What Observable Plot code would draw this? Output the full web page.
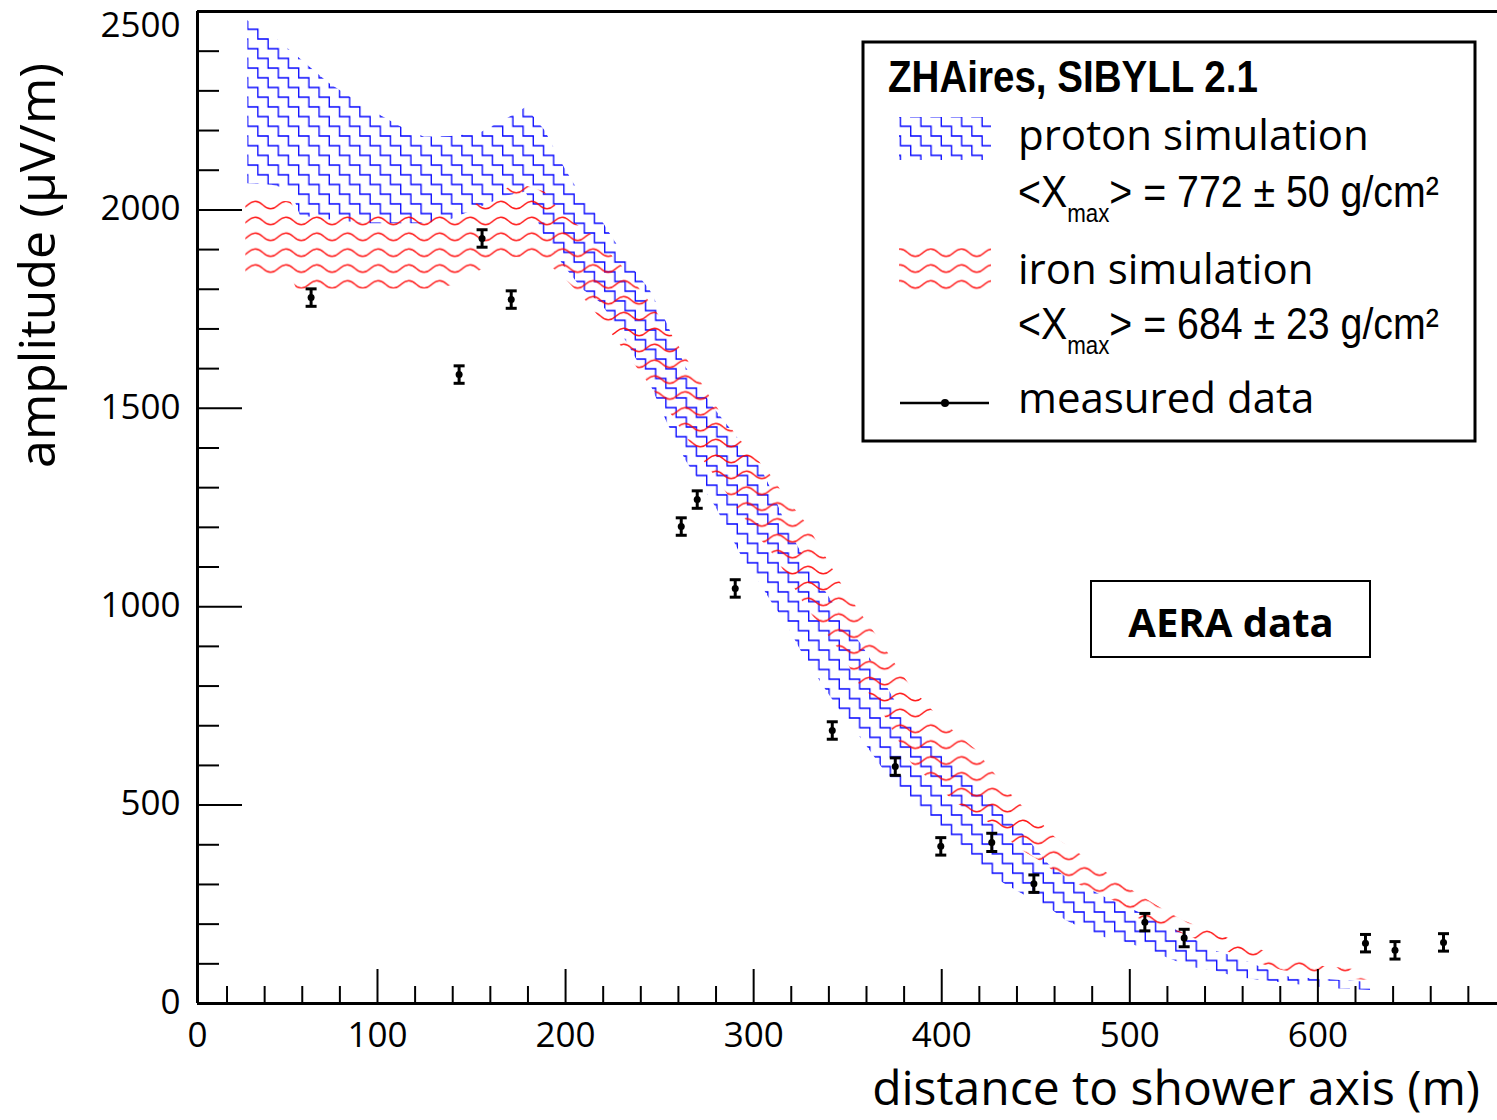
<!DOCTYPE html>
<html>
<head>
<meta charset="utf-8">
<script src="https://cdn.jsdelivr.net/npm/d3@7"></script>
<script src="https://cdn.jsdelivr.net/npm/@observablehq/plot@0.6"></script>
<style>
  html, body { margin: 0; padding: 0; background: #fff; }
  svg { display: block; }
</style>
</head>
<body>
<div id="chart"></div>
<script>
// ---------------- data ----------------
// proton simulation band (ZHAires, SIBYLL 2.1)
const protonX    = [31, 44, 54, 59, 74, 94, 114, 125, 139, 154, 169, 179, 189, 199, 209, 219, 233, 245, 254, 264, 280, 294, 302, 310, 317, 326, 337, 347, 358, 369, 379, 389, 399, 409, 420, 434, 445, 457, 466, 477, 487, 500, 514, 533, 544, 557, 570, 585, 606, 628];
const protonLow  = [2066, 2062, 2050, 1985, 1975, 1965, 1965, 1965, 1975, 2005, 2035, 2045, 1930, 1860, 1800, 1765, 1663, 1562, 1464, 1368, 1250, 1124, 1070, 1008, 960, 882, 800, 731, 663, 590, 537, 486, 436, 405, 343, 300, 270, 242, 209, 184, 166, 151, 126, 91, 83, 66, 58, 50, 38, 33];
const protonHigh = [2477, 2440, 2400, 2380, 2320, 2258, 2205, 2183, 2185, 2192, 2230, 2258, 2200, 2110, 2030, 1975, 1870, 1797, 1714, 1603, 1494, 1410, 1368, 1290, 1210, 1130, 1048, 973, 900, 814, 731, 680, 630, 587, 540, 469, 419, 350, 318, 292, 267, 240, 210, 166, 134, 116, 91, 66, 60, 53];

// iron simulation band
const ironX    = [30, 54, 57, 132, 144, 159, 174, 189, 199, 213, 229, 243, 254, 266, 277, 291, 303, 310, 317, 328, 339, 347, 356, 365, 374, 384, 400, 408, 418, 431, 440, 452, 461, 479, 491, 503, 516, 528, 546, 564, 581, 599, 615, 628];
const ironLow  = [1835, 1835, 1800, 1800, 1815, 1860, 1880, 1870, 1830, 1760, 1660, 1570, 1500, 1415, 1345, 1250, 1174, 1134, 1084, 998, 932, 882, 806, 764, 688, 605, 537, 504, 479, 436, 393, 360, 328, 285, 260, 217, 195, 176, 141, 108, 83, 70, 62, 58];
const ironHigh = [2030, 2020, 1995, 1995, 2000, 2025, 2068, 2045, 1985, 1940, 1864, 1779, 1704, 1613, 1527, 1430, 1365, 1326, 1275, 1210, 1120, 1055, 990, 930, 865, 796, 713, 680, 640, 562, 510, 460, 415, 360, 318, 280, 242, 210, 175, 145, 116, 95, 88, 80];

// measured AERA data
const dataX   = [64.7, 143.4, 155.6, 171.1, 261.5, 270.0, 290.2, 341.8, 375.3, 399.5, 426.6, 449.0, 508.0, 528.9, 625.3, 641.0, 666.8];
const dataY   = [1779, 1585, 1928, 1774, 1202, 1270, 1046, 688, 597, 396, 406, 302, 205, 165, 152, 134, 154];
const dataErr = [22, 22, 22, 22, 22, 22, 22, 22, 22, 22, 23, 22, 22, 22, 22, 22, 22];

// axes
const xDomain = [4.3, 695.5];
const yDomain = [0, 2500];
const xMajorTicks = [0, 100, 200, 300, 400, 500, 600];
const xTickLabels = ["0", "100", "200", "300", "400", "500", "600"];
const xMinorTicks = [20, 40, 60, 80, 120, 140, 160, 180, 220, 240, 260, 280, 320, 340, 360, 380, 420, 440, 460, 480, 520, 540, 560, 580, 620, 640, 660, 680];
const yMajorTicks = [0, 500, 1000, 1500, 2000, 2500];
const yTickLabels = ["0", "500", "1000", "1500", "2000", "2500"];
const yMinorTicks = [100, 200, 300, 400, 600, 700, 800, 900, 1100, 1200, 1300, 1400, 1600, 1700, 1800, 1900, 2100, 2200, 2300, 2400];

const xTitle = "distance to shower axis (m)";
const yTitle = "amplitude (µV/m)";
const legendTitle = "ZHAires, SIBYLL 2.1";
const protonLabel = "proton simulation";
const protonXmax = "772 ± 50 g/cm²";
const ironLabel = "iron simulation";
const ironXmax = "684 ± 23 g/cm²";
const dataLabel = "measured data";
const boxLabel = "AERA data";

// ---------------- layout ----------------
const W = 1497, H = 1120;
const mL = 197, mR = 0, mT = 11, mB = 117;
const fw = W - mL - mR, fh = H - mT - mB;

const protonRows = protonX.map((x, i) => ({x, lo: protonLow[i], hi: protonHigh[i]}));
const ironRows = ironX.map((x, i) => ({x, lo: ironLow[i], hi: ironHigh[i]}));
const points = dataX.map((x, i) => ({x, y: dataY[i], e: dataErr[i]}));
const yLabelRows = yMajorTicks.map((y, i) => ({y, label: yTickLabels[i]}));

const capSymbol = {
  draw(ctx, size) {
    const r = Math.sqrt(size / Math.PI);
    ctx.moveTo(-r, 0);
    ctx.lineTo(r, 0);
  }
};

const plot = Plot.plot({
  width: W, height: H,
  marginLeft: mL, marginRight: mR, marginTop: mT, marginBottom: mB,
  x: {domain: xDomain, axis: null},
  y: {domain: yDomain, axis: null},
  style: {fontFamily: "'Open Sans', sans-serif", background: "white", color: "black"},
  marks: [
    Plot.areaY(protonRows, {x: "x", y1: "lo", y2: "hi", fill: "#00f", curve: "linear"}),
    Plot.areaY(ironRows, {x: "x", y1: "lo", y2: "hi", fill: "#f00", curve: "linear"}),
    // ticks (pointing inward)
    Plot.ruleX(xMinorTicks, {x: d => d, insetTop: fh - 17, strokeWidth: 2, stroke: "black"}),
    Plot.ruleX(xMajorTicks.filter(d => d > xDomain[0]), {x: d => d, insetTop: fh - 34, strokeWidth: 2, stroke: "black"}),
    Plot.ruleY(yMinorTicks, {y: d => d, insetRight: fw - 22, strokeWidth: 2, stroke: "black"}),
    Plot.ruleY(yMajorTicks, {y: d => d, insetRight: fw - 45, strokeWidth: 2, stroke: "black"}),
    // axis lines / frame
    Plot.ruleX([xDomain[0]], {x: d => d, strokeWidth: 3, stroke: "black"}),
    Plot.ruleY([yDomain[0]], {y: d => d, strokeWidth: 3, stroke: "black"}),
    Plot.ruleY([yDomain[1]], {y: d => d, strokeWidth: 3, stroke: "black"}),
    // tick labels
    Plot.text(xMajorTicks, {x: d => Math.max(d, xDomain[0]), text: (d, i) => xTickLabels[i], frameAnchor: "bottom", lineAnchor: "top", dy: 19, fontSize: 35, fill: "black"}),
    Plot.text(yLabelRows.filter(d => d.y < yDomain[1]), {y: "y", text: "label", frameAnchor: "left", textAnchor: "end", dx: -17, dy: -1, fontSize: 35, fill: "black"}),
    Plot.text(yLabelRows.filter(d => d.y >= yDomain[1]), {y: "y", text: "label", frameAnchor: "left", textAnchor: "end", dx: -17, dy: 14, fontSize: 35, fill: "black"}),
    // measured data with error bars
    Plot.ruleX(points, {x: "x", y1: d => d.y - d.e, y2: d => d.y + d.e, strokeWidth: 3, stroke: "black"}),
    Plot.dot(points, {x: "x", y: d => d.y + d.e, symbol: capSymbol, r: 5.5, fill: "none", stroke: "black", strokeWidth: 3}),
    Plot.dot(points, {x: "x", y: d => d.y - d.e, symbol: capSymbol, r: 5.5, fill: "none", stroke: "black", strokeWidth: 3}),
    Plot.dot(points, {x: "x", y: "y", r: 3.5, fill: "black", stroke: "none"})
  ]
});

document.getElementById("chart").appendChild(plot);

// ---------------- hatch patterns ----------------
const svg = d3.select(plot);
const defs = svg.insert("defs", ":first-child");
const pp = defs.append("pattern")
  .attr("id", "protonHatch").attr("patternUnits", "userSpaceOnUse")
  .attr("x", 18.2).attr("y", 14.75).attr("width", 20.4).attr("height", 19.4);
pp.append("path")
  .attr("d", "M-5.1,4.85H5.1V14.55H15.3V24.25M15.3,-4.85V4.85H25.5")
  .attr("fill", "none").attr("stroke", "#0000ff").attr("stroke-width", 1.3);

const ip = defs.append("pattern")
  .attr("id", "ironHatch").attr("patternUnits", "userSpaceOnUse")
  .attr("x", 2.0).attr("y", 6.67).attr("width", 30.7).attr("height", 15.87);
ip.append("path")
  .attr("d", "M-15.35,7.93C-10.25,12.83 -5.1,12.83 0,7.93C5.1,3.03 10.25,3.03 15.35,7.93C20.45,12.83 25.6,12.83 30.7,7.93C35.8,3.03 40.95,3.03 46.05,7.93")
  .attr("fill", "none").attr("stroke", "#ff0000").attr("stroke-width", 1.3).attr("stroke-opacity", 0.9);

const areas = svg.selectAll('g[aria-label="area"]').nodes();
if (areas[0]) d3.select(areas[0]).selectAll("path").attr("fill", "url(#protonHatch)");
if (areas[1]) d3.select(areas[1]).selectAll("path").attr("fill", "url(#ironHatch)");

// ---------------- axis titles ----------------
svg.append("text")
  .attr("x", 1480).attr("y", 1105)
  .attr("text-anchor", "end")
  .attr("font-family", "'Open Sans', sans-serif").attr("font-size", 48)
  .attr("fill", "black")
  .text(xTitle);

svg.append("text")
  .attr("transform", "translate(55,63) rotate(-90)")
  .attr("text-anchor", "end")
  .attr("font-family", "'Open Sans', sans-serif").attr("font-size", 50)
  .attr("fill", "black")
  .text(yTitle);

// ---------------- legend ----------------
const lg = svg.append("g").attr("text-anchor", "start");
lg.append("rect").attr("x", 863).attr("y", 42).attr("width", 612).attr("height", 399)
  .attr("fill", "white").attr("stroke", "black").attr("stroke-width", 3);

function fitText(parent, x, y, target, build) {
  const t = parent.append("text").attr("x", 0).attr("y", 0)
    .attr("text-anchor", "start").attr("fill", "black");
  build(t);
  const w = t.node().getBBox().width;
  const s = w > 0 ? target / w : 1;
  t.attr("transform", `translate(${x},${y}) scale(${s},1)`);
  return t;
}

fitText(lg, 888, 92, 370, t => t
  .attr("font-family", "'Liberation Sans', Arial, sans-serif")
  .attr("font-weight", "bold").attr("font-size", 44)
  .text(legendTitle));

function xmaxLine(y, value) {
  fitText(lg, 1018, y, 421, t => {
    t.attr("font-family", "'Liberation Sans', Arial, sans-serif").attr("font-size", 44);
    t.append("tspan").text("<X");
    t.append("tspan").attr("font-size", 25).attr("dy", 15).text("max");
    t.append("tspan").attr("dy", -15).text("> = " + value);
  });
}

function label(x, y, txt) {
  lg.append("text").attr("x", x).attr("y", y).attr("text-anchor", "start")
    .attr("font-family", "'Open Sans', sans-serif").attr("font-size", 42).attr("fill", "black")
    .text(txt);
}

lg.append("rect").attr("x", 899).attr("y", 117).attr("width", 92).attr("height", 43)
  .attr("fill", "url(#protonHatch)");
label(1018, 150, protonLabel);
xmaxLine(207, protonXmax);

lg.append("rect").attr("x", 899).attr("y", 248).attr("width", 92).attr("height", 43)
  .attr("fill", "url(#ironHatch)");
label(1018, 284, ironLabel);
xmaxLine(339, ironXmax);

lg.append("line").attr("x1", 900).attr("x2", 989).attr("y1", 403).attr("y2", 403)
  .attr("stroke", "black").attr("stroke-width", 2.7);
lg.append("circle").attr("cx", 945).attr("cy", 403).attr("r", 4).attr("fill", "black");
label(1018, 413, dataLabel);

// AERA data box
const ab = svg.append("g");
ab.append("rect").attr("x", 1091).attr("y", 581).attr("width", 279).attr("height", 76)
  .attr("fill", "white").attr("stroke", "black").attr("stroke-width", 2);
ab.append("text").attr("x", 1231).attr("y", 637).attr("text-anchor", "middle")
  .attr("font-family", "'Open Sans', sans-serif").attr("font-weight", "bold").attr("font-size", 40)
  .attr("fill", "black")
  .text(boxLabel);
</script>
</body>
</html>
